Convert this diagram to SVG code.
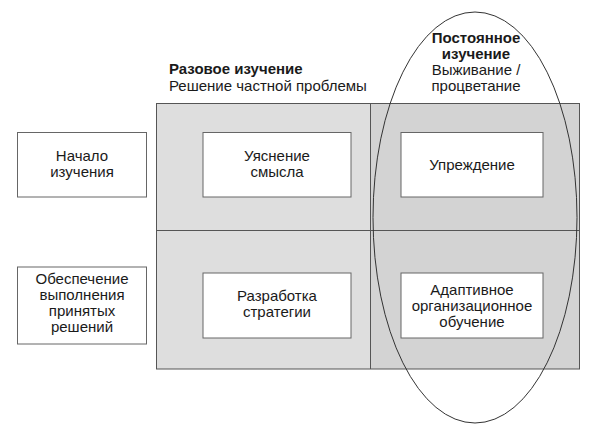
<svg xmlns="http://www.w3.org/2000/svg" width="600" height="440" viewBox="0 0 600 440">
<style>
text{font-family:"Liberation Sans",Arial,sans-serif;font-size:15px;fill:#1a1a1a;text-anchor:middle}
.b{font-weight:bold}
.l{text-anchor:start}
.box{fill:#fff;stroke:#666;stroke-width:1}
.grid{stroke:#555;stroke-width:1;fill:none}
</style>
<rect width="600" height="440" fill="#fff"/>
<g id="grid">
<rect x="156" y="103" width="214.5" height="266" fill="#dedede"/>
<rect x="370.5" y="103" width="209.5" height="266" fill="#d3d3d3"/>
<rect class="grid" x="156.5" y="103.5" width="423" height="265.5"/>
<line class="grid" x1="370.5" y1="103.5" x2="370.5" y2="369"/>
<line class="grid" x1="156.5" y1="230.5" x2="579.5" y2="230.5"/>
</g>
<g id="header-left">
<text class="b l" x="169" y="74">Разовое изучение</text>
<text class="l" x="169" y="91">Решение частной проблемы</text>
</g>
<g id="header-right">
<text class="b" x="476" y="43">Постоянное</text>
<text class="b" x="476" y="59">изучение</text>
<text x="476" y="75">Выживание /</text>
<text x="476" y="91">процветание</text>
</g>
<g id="n-nachalo">
<rect class="box" x="17.5" y="132.5" width="129" height="64.5"/>
<text x="82" y="161">Начало</text>
<text x="82" y="177">изучения</text>
</g>
<g id="n-obespechenie">
<rect class="box" x="17.5" y="267" width="129" height="77"/>
<text x="82" y="284">Обеспечение</text>
<text x="82" y="300">выполнения</text>
<text x="82" y="316">принятых</text>
<text x="82" y="332">решений</text>
</g>
<g id="n-uyasnenie">
<rect class="box" x="203" y="132.5" width="148" height="64.5"/>
<text x="277" y="161">Уяснение</text>
<text x="277" y="177">смысла</text>
</g>
<g id="n-uprezhdenie">
<rect class="box" x="401" y="132.5" width="142" height="64.5"/>
<text x="472" y="170">Упреждение</text>
</g>
<g id="n-razrabotka">
<rect class="box" x="203" y="273" width="148" height="65"/>
<text x="277" y="301">Разработка</text>
<text x="277" y="317">стратегии</text>
</g>
<g id="n-adaptivnoe">
<rect class="box" x="401" y="273" width="142" height="65"/>
<text x="472" y="295">Адаптивное</text>
<text x="472" y="311">организационное</text>
<text x="472" y="327">обучение</text>
</g>
<g id="connectors">
<ellipse cx="475" cy="217.5" rx="102" ry="205.5" fill="none" stroke="#333" stroke-width="1"/>
</g>
</svg>
